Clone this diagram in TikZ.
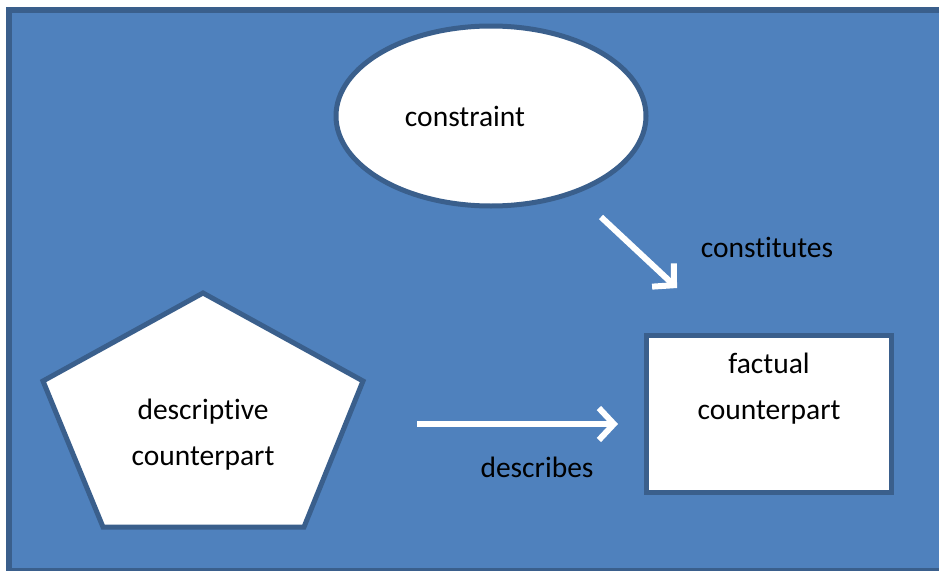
\documentclass[tikz,border=0pt]{standalone}
\usepackage{fontspec}
\setmainfont{Carlito}[Ligatures={NoCommon}]
\usetikzlibrary{arrows.meta}
\definecolor{bgblue}{HTML}{4F81BD}
\definecolor{edgeblue}{HTML}{3A5F8C}
\tikzset{
  shapebox/.style={draw=edgeblue, line width=5pt, fill=white},
  lbl/.style={font=\fontsize{29.5}{36}\selectfont, text=black, align=center},
  whitearrow/.style={draw=white, line width=6pt, -{Straight Barb[length=15pt,width=32pt,line width=6pt]}}
}
\begin{document}
\begin{tikzpicture}[x=1pt,y=-1pt]
\useasboundingbox (0,0) rectangle (939,570);
\draw[draw=edgeblue, line width=6pt, fill=bgblue] (9,10) rectangle (960,571);
% ellipse
\draw[shapebox] (491,116) ellipse [x radius=155, y radius=90];
\node[lbl] (constraint) at (465,116) {constraint};
% pentagon
\draw[shapebox] (203,293) -- (363,381) -- (304,527) -- (103,527) -- (43,381) -- cycle;
\node[lbl] (desc) at (203,435) {descriptive\\[10pt]counterpart};
% rectangle
\draw[shapebox] (646,335) rectangle (891,492);
\node[lbl] (fact) at (769,389) {factual\\[10pt]counterpart};
% arrows
\coordinate (a1s) at (601,217);
\coordinate (a1e) at (677,288);
\draw[whitearrow] (a1s) -- (a1e);
\coordinate (a2s) at (417,424);
\coordinate (a2e) at (618,424);
\draw[whitearrow] (a2s) -- (a2e);
\node[lbl] (constitutes) at (767,247) {constitutes};
\node[lbl] (describes) at (537,467) {describes};
\end{tikzpicture}
\end{document}
